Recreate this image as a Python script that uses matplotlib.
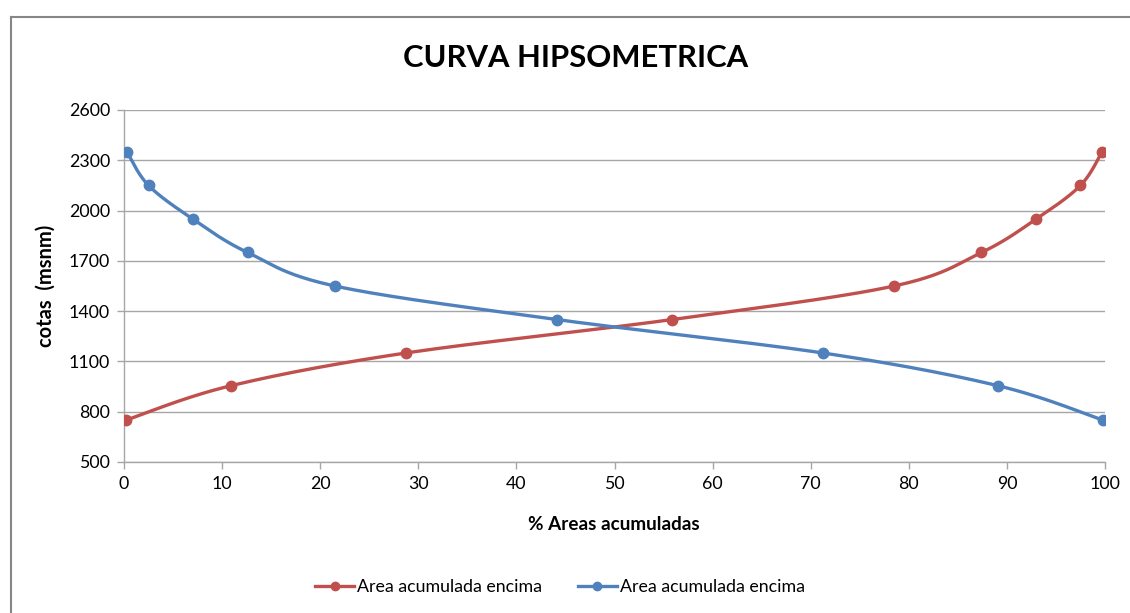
import numpy as np
import matplotlib
matplotlib.use("Agg")
import matplotlib.pyplot as plt
from matplotlib.lines import Line2D

# ---- data ----
red_x = [0.2, 10.9, 28.7, 55.9, 78.5, 87.4, 93.0, 97.5, 99.7]
red_y = [750, 955, 1150, 1350, 1550, 1750, 1950, 2150, 2350]
blue_x = [0.3, 2.5, 7.0, 12.6, 21.5, 44.1, 71.3, 89.1, 99.8]
blue_y = [2350, 2150, 1950, 1750, 1550, 1350, 1150, 955, 750]
series_labels = ["Area acumulada encima", "Area acumulada encima"]
x_ticks = [0, 10, 20, 30, 40, 50, 60, 70, 80, 90, 100]
y_ticks = [500, 800, 1100, 1400, 1700, 2000, 2300, 2600]

RED = "#C0504D"
BLUE = "#4F81BD"
FONT = "Lato"

fig = plt.figure(figsize=(11.30, 6.13), dpi=100)
ax = fig.add_axes([124/1130, 1-462/613, 981/1130, 352/613])
ax.set_xlim(0, 100)
ax.set_ylim(500, 2600)


def smooth(ax, xs, ys, n=40):
    pts = ax.transData.transform(np.column_stack([xs, ys]))
    out = []
    m = len(pts)
    for i in range(m - 1):
        p0 = pts[i - 1] if i > 0 else pts[i]
        p1 = pts[i]
        p2 = pts[i + 1]
        p3 = pts[i + 2] if i + 2 < m else pts[i + 1]
        c1 = p1 + (p2 - p0) / 6.0
        c2 = p2 - (p3 - p1) / 6.0
        t = np.linspace(0, 1, n)[:, None]
        seg = ((1 - t) ** 3) * p1 + 3 * ((1 - t) ** 2) * t * c1 + 3 * (1 - t) * t ** 2 * c2 + t ** 3 * p2
        out.append(seg if i == 0 else seg[1:])
    out = np.vstack(out)
    d = ax.transData.inverted().transform(out)
    return d[:, 0], d[:, 1]


for xs, ys, c, lab in [(red_x, red_y, RED, series_labels[0]), (blue_x, blue_y, BLUE, series_labels[1])]:
    sx, sy = smooth(ax, xs, ys)
    ax.plot(sx, sy, color=c, lw=2.4, solid_capstyle="round", zorder=3)
    ax.plot(xs, ys, "o", color=c, ms=7.5, zorder=4)

# legend handles
handles = [Line2D([0], [0], color=RED, lw=2.4, marker="o", ms=6),
           Line2D([0], [0], color=BLUE, lw=2.4, marker="o", ms=6)]
fig.legend(handles, series_labels, loc="center", bbox_to_anchor=(560/1130, 1-587/613),
           ncol=2, frameon=False, handlelength=2.2, handletextpad=0.17, columnspacing=2.0,
           prop={"family": FONT, "size": 12.75})

ax.set_xticks(x_ticks)
ax.set_yticks(y_ticks)
ax.set_xticklabels([str(v) for v in x_ticks], family=FONT, fontsize=12.8)
ax.set_yticklabels([str(v) for v in y_ticks], family=FONT, fontsize=12.8)
ax.grid(axis="y", color="#A6A6A6", lw=1.0)
ax.set_axisbelow(True)
for s in ["top", "right"]:
    ax.spines[s].set_visible(False)
for s in ["left", "bottom"]:
    ax.spines[s].set_color("#A6A6A6")
    ax.spines[s].set_linewidth(1.0)
ax.tick_params(axis="both", direction="out", color="#A6A6A6", length=5, width=1.0, pad=5)

fig.text(576/1130, 1-58/613, "CURVA HIPSOMETRICA", ha="center", va="center",
         family=FONT, fontweight="bold", fontsize=22.3)
fig.text(614/1130, 1-525/613, "% Areas acumuladas", ha="center", va="center",
         family=FONT, fontweight="bold", fontsize=13.6)
fig.text(46/1130, 1-286/613, "cotas  (msnm)", ha="center", va="center", rotation=90,
         family=FONT, fontweight="bold", fontsize=14.5)

# outer chart border (left and top edges visible)
fig.add_artist(Line2D([10.5/1130, 10.5/1130], [0, 1-16.5/613], color="#868686", lw=1.5,
                      transform=fig.transFigure))
fig.add_artist(Line2D([10.5/1130, 1], [1-16.5/613, 1-16.5/613], color="#868686", lw=1.5,
                      transform=fig.transFigure))

fig.savefig("out.png", dpi=100, facecolor="white")
